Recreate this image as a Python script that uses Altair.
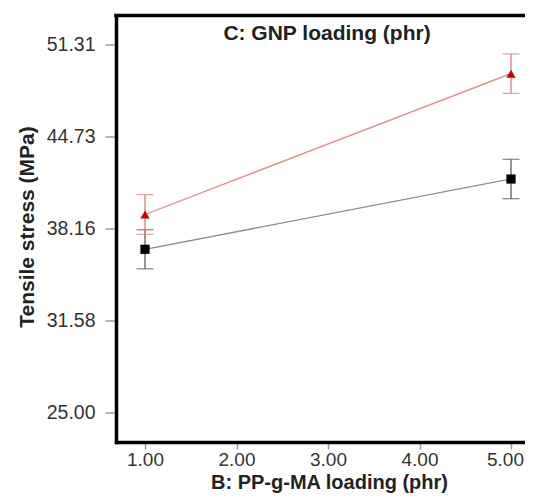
import altair as alt
import pandas as pd

# ---- data ----
x_vals = [1.0, 5.0]
low_gnp_mean = [36.69, 41.72]     # black squares
low_gnp_err = [1.40, 1.41]
high_gnp_mean = [39.18, 49.26]    # red triangles
high_gnp_err = [1.42, 1.41]
series_names = ["C-", "C+"]
y_ticks = [25.00, 31.58, 38.16, 44.73, 51.31]
x_ticks = [1.0, 2.0, 3.0, 4.0, 5.0]
panel_title = ["C: GNP loading (phr)"]
x_title = "B: PP-g-MA loading (phr)"
y_title = "Tensile stress (MPa)"

rows = []
for name, means, errs in [(series_names[0], low_gnp_mean, low_gnp_err),
                          (series_names[1], high_gnp_mean, high_gnp_err)]:
    for xv, m, e in zip(x_vals, means, errs):
        rows.append({"series": name, "x": xv, "y": m, "lo": m - e, "hi": m + e})
df = pd.DataFrame(rows)

W, H = 409, 426.5
FONT = "Liberation Sans"

xscale = alt.Scale(domain=[0.683, 5.153], nice=False, zero=False)
yscale = alt.Scale(domain=[22.90, 53.42], nice=False, zero=False)

x_axis = alt.Axis(values=x_ticks, format=".2f", title=x_title, tickSize=7,
                  labelPadding=1, labelFontSize=19,
                  labelOffset={"condition": {"test": "datum.value >= 5", "value": -6}, "value": 0},
                  titleY=46, titleX=213, titleAlign="center",
                  titleBaseline="alphabetic", titleFontSize=20)
y_axis = alt.Axis(values=y_ticks, format=".2f", title=y_title, tickSize=11,
                  labelPadding=10, labelFontSize=19.5, titleX=-83, titleY=211, titleAngle=-90,
                  titleAlign="center", titleBaseline="alphabetic")


def X(field):
    return alt.X(field, type="quantitative", scale=xscale, axis=x_axis)


def Y(field):
    return alt.Y(field, type="quantitative", scale=yscale, axis=y_axis)


base = alt.Chart(df)

styles = {
    "C-": dict(line="#8c8c8c", err="#5f5f5f", point="#000000", shape="square", size=85),
    "C+": dict(line="#e08a8a", err="#d98080", point="#cc0000", shape="triangle-up", size=85),
}

layers = []
# top border of the frame (its right side lies outside the picture)
layers.append(alt.Chart(pd.DataFrame({"t": panel_title})).mark_rule(
    color="black", strokeWidth=3.5, strokeCap="butt"
).encode(x=alt.value(-1.75), x2=alt.value(W), y=alt.value(0)))

for name in series_names:
    s = styles[name]
    sub = base.transform_filter(alt.datum.series == name)
    layers.append(sub.mark_line(color=s["line"], strokeWidth=1.3).encode(x=X("x"), y=Y("y")))
    layers.append(sub.mark_rule(color=s["err"], strokeWidth=1.3).encode(x=X("x"), y=Y("lo"), y2="hi:Q"))
    layers.append(sub.mark_tick(orient="horizontal", size=17, thickness=1.3, color=s["err"]).encode(x=X("x"), y=Y("lo")))
    layers.append(sub.mark_tick(orient="horizontal", size=17, thickness=1.3, color=s["err"]).encode(x=X("x"), y=Y("hi")))
    layers.append(sub.mark_point(shape=s["shape"], filled=True, size=s["size"], color=s["point"], opacity=1).encode(x=X("x"), y=Y("y")))

title_layer = alt.Chart(pd.DataFrame({"t": panel_title})).mark_text(
    font=FONT, fontSize=21, fontWeight="bold", color="#222222",
    align="center", baseline="alphabetic"
).encode(text="t:N", x=alt.value(211), y=alt.value(24))
layers.append(title_layer)

chart = alt.layer(*layers).properties(
    width=W, height=H,
    padding={"left": 108, "top": 7.5, "right": 0, "bottom": 51},
    autosize=alt.AutoSizeParams(type="none"),
).configure_view(
    stroke=None
).configure_axis(
    domain=True, domainColor="black", domainWidth=3.5, domainCap="square",
    grid=False, tickColor="#999999", tickWidth=1.5,
    labelFont=FONT, labelColor="#333333",
    titleFont=FONT, titleFontSize=21, titleFontWeight="bold", titleColor="#222222",
)

chart.save("out.html", embed_options={"renderer": "svg", "actions": False})
